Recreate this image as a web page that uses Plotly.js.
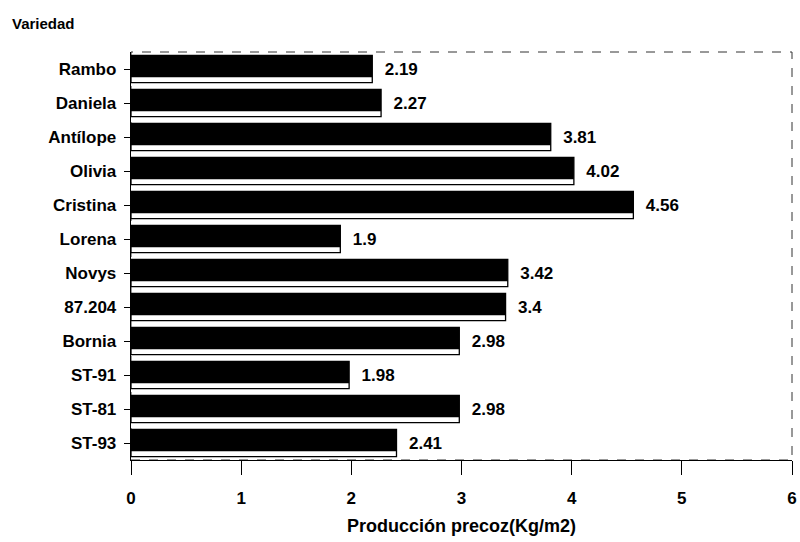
<!DOCTYPE html>
<html>
<head>
<meta charset="utf-8">
<script src="https://cdn.plot.ly/plotly-3.0.1.min.js"></script>
<style>html,body{margin:0;padding:0;background:#fff;}#chart{width:800px;height:542px;}</style>
</head>
<body>
<div id="chart"></div>
<script>
var varieties = ["Rambo", "Daniela", "Antílope", "Olivia", "Cristina", "Lorena", "Novys", "87.204", "Bornia", "ST-91", "ST-81", "ST-93"];
var production = [2.19, 2.27, 3.81, 4.02, 4.56, 1.9, 3.42, 3.4, 2.98, 1.98, 2.98, 2.41];
var valueLabels = ["2.19", "2.27", "3.81", "4.02", "4.56", "1.9", "3.42", "3.4", "2.98", "1.98", "2.98", "2.41"];
var xTicks = [0, 1, 2, 3, 4, 5, 6];

var font = "Liberation Sans, Arial, sans-serif";

var outline = {
  type: "bar", orientation: "h",
  y: varieties, x: production,
  width: 0.8,
  marker: {color: "#ffffff", line: {color: "#000000", width: 1.3}},
  text: valueLabels, texttemplate: "  %{text}", textposition: "outside", cliponaxis: false,
  textfont: {family: font, size: 17, color: "#000", weight: "bold"},
  hoverinfo: "skip"
};
var solid = {
  type: "bar", orientation: "h",
  y: varieties, x: production,
  width: 0.64, offset: -0.4,
  marker: {color: "#000000", line: {color: "#000000", width: 0}},
  hoverinfo: "skip"
};

var layout = {
  width: 800, height: 542,
  margin: {l: 131, r: 8, t: 52, b: 82},
  paper_bgcolor: "#fff", plot_bgcolor: "#fff",
  barmode: "overlay",
  showlegend: false,
  font: {family: font, color: "#000"},
  xaxis: {
    range: [0, 6], tickvals: xTicks, ticktext: xTicks.map(String),
    showgrid: false, zeroline: false,
    showline: true, linecolor: "#000", linewidth: 1.3,
    ticks: "outside", ticklen: 14, tickcolor: "#000", tickwidth: 1,
    ticklabelstandoff: 8,
    tickfont: {family: font, size: 17, color: "#000", weight: "bold"},
    title: {text: "Producción precoz(Kg/m2)", font: {family: font, size: 18, color: "#000", weight: "bold"}, standoff: 12}
  },
  yaxis: {
    categoryorder: "array", categoryarray: varieties,
    autorange: "reversed",
    showgrid: false, zeroline: false,
    showline: true, linecolor: "#000", linewidth: 1.3,
    ticks: "outside", ticklen: 6, tickcolor: "#000",
    ticklabelstandoff: 4,
    tickfont: {family: font, size: 17, color: "#000", weight: "bold"}
  },
  shapes: [
    {type: "rect", xref: "paper", yref: "paper", x0: 0, x1: 1, y0: 0, y1: 1,
     line: {color: "#333", width: 1, dash: "dash"}, fillcolor: "rgba(0,0,0,0)", layer: "below"}
  ],
  annotations: [
    {text: "Variedad", xref: "paper", yref: "paper", x: -0.183, y: 1.07, xanchor: "left", yanchor: "middle",
     showarrow: false, font: {family: font, size: 15, color: "#000", weight: "bold"}}
  ]
};

Plotly.newPlot("chart", [outline, solid], layout, {displayModeBar: false, staticPlot: true});
</script>
</body>
</html>
